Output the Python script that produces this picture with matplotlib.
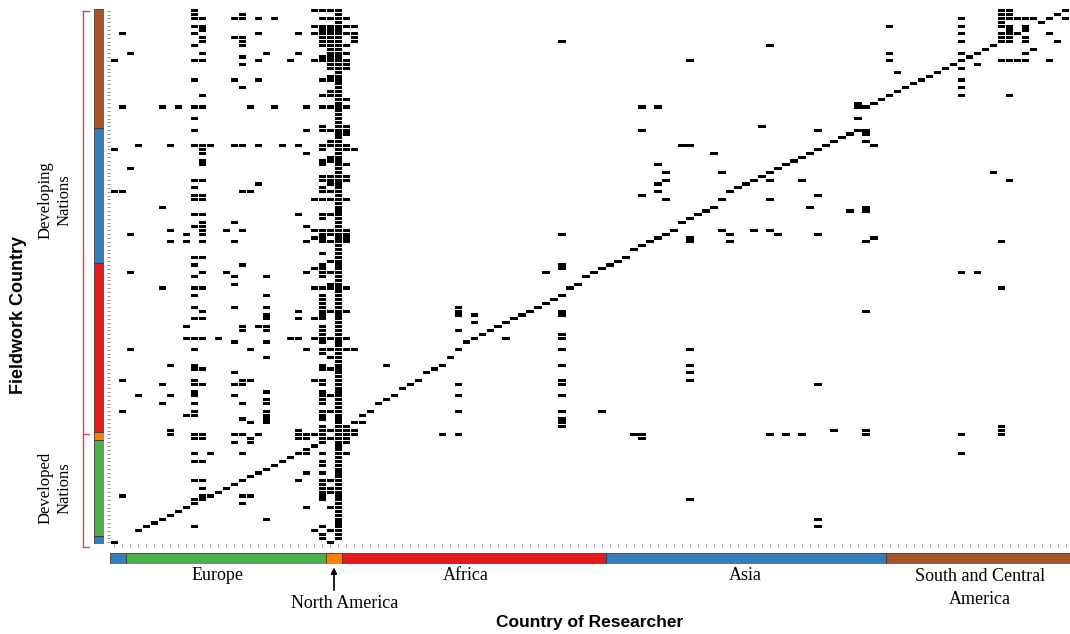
import numpy as np
import matplotlib
matplotlib.use("Agg")
import matplotlib.pyplot as plt
from matplotlib.lines import Line2D

# ---------------------------------------------------------------------------
# Regions: columns = country of researcher, rows = fieldwork country (top->bottom)
# ---------------------------------------------------------------------------
col_groups = ["Oceania", "Europe", "North America", "Africa", "Asia", "South and Central America"]
col_counts = [2, 25, 2, 33, 35, 23]
row_groups = ["South and Central America", "Asia", "Africa", "North America", "Europe", "Oceania"]
row_counts = [31, 35, 44, 2, 25, 2]

region_colors = {
    "Oceania": "#377EB8", "Europe": "#4DAF4A", "North America": "#FF7F00",
    "Africa": "#E41A1C", "Asia": "#377EB8", "South and Central America": "#A65628",
}

# column of the USA: black in every fieldwork row except these
usa_col = 28
usa_blank_rows = [138]

# researchers working in their own country (diagonal)
self_cols = [0, 3, 4, 5, 6, 7, 8, 9, 10, 11, 12, 13, 14, 15, 16, 17, 18, 19, 20, 21,
             22, 23, 24, 25, 26, 27,
             29, 30, 31, 32, 33, 34, 35, 36, 37, 38, 39, 40,
             41, 42, 43, 44, 45, 46, 47, 48, 49, 50, 51, 52, 53, 54, 55, 56, 57, 58, 59, 60,
             61, 62, 63, 64, 65, 66, 67, 68, 69, 70, 71, 72, 73, 74, 75, 76, 77, 78, 79,
             80, 81, 82, 83, 84, 85, 86, 87, 88, 89, 90, 91, 92, 93,
             94, 95, 96, 97, 98, 99, 100, 101, 102, 103, 104, 105, 106, 107, 108, 109, 110,
             116, 117, 118, 119]
self_rows = [138, 135, 134, 133, 132, 131, 130, 129, 128, 127, 126, 125, 124, 123, 122, 121, 120, 119, 118, 117,
             116, 115, 114, 113, 112, 111,
             108, 107, 105, 104, 102, 101, 100, 98, 97, 96, 94, 93,
             92, 90, 88, 86, 85, 84, 83, 82, 81, 80, 79, 78, 77, 76, 75, 74, 72, 71, 69, 68,
             67, 66, 65, 64, 62, 61, 60, 59, 58, 57, 55, 54, 53, 52, 51, 49, 47, 46, 45,
             44, 43, 42, 41, 40, 39, 38, 37, 36, 35, 34, 33, 32, 31,
             25, 24, 23, 22, 21, 20, 19, 18, 17, 16, 15, 14, 13, 12, 11, 10, 9,
             3, 2, 1, 0]

# other researcher columns per fieldwork row
sca_hits = {
    0: [10, 25, 26, 27, 111, 112],
    1: [10, 16, 111, 112],
    2: [10, 11, 15, 16, 18, 20, 26, 27, 29, 106, 111, 112, 113, 114, 115, 119],
    3: [111],
    4: [10, 11, 25, 26, 27, 29, 30, 97, 106, 111, 112, 114],
    5: [11, 26, 27, 112, 114],
    6: [1, 10, 18, 23, 25, 26, 27, 29, 30, 106, 111, 112, 113, 117],
    7: [11, 15, 16, 26, 27, 30, 111, 112, 114],
    8: [11, 16, 26, 27, 30, 56, 106, 111, 112, 114, 118],
    9: [10, 16, 26, 27, 29, 82],
    10: [27, 115],
    11: [2, 11, 19, 23, 27, 29, 97, 106, 114],
    12: [16, 26, 27],
    13: [0, 10, 11, 18, 22, 25, 26, 27, 29, 72, 97, 111, 112, 113, 114, 117],
    14: [16, 27, 29, 108],
    15: [27, 29, 106],
    16: [98],
    17: [27],
    18: [10, 15, 18, 26, 27, 106],
    20: [16, 106],
    21: [27],
    22: [11, 26, 27, 106, 112],
    23: [29],
    24: [93],
    25: [1, 6, 8, 10, 11, 17, 20, 24, 26, 27, 29, 66, 68, 93],
    28: [10, 93],
    30: [26, 29, 81],
}
asia_hits = {
    31: [10, 24, 26, 27, 29, 66, 88, 94],
    32: [29, 94],
    34: [27, 94],
    35: [3, 7, 10, 11, 12, 15, 16, 18, 21, 23, 26, 27, 29, 71, 72, 95],
    36: [0, 11, 26, 29, 30],
    37: [11, 24, 75],
    38: [27],
    39: [11, 26, 27],
    40: [11, 26, 29, 68],
    41: [2],
    42: [69, 76, 110],
    43: [26, 27, 29],
    44: [10, 11, 26, 27, 29, 69, 82, 86, 112],
    45: [18, 27, 68],
    46: [10, 26],
    47: [0, 1, 16, 17, 26, 27, 68],
    48: [10, 11, 66, 88],
    49: [10, 11, 25, 26, 27, 29, 69, 82],
    51: [6, 87, 94],
    52: [92, 94],
    53: [10, 11, 23, 26, 27],
    54: [26],
    55: [11, 15],
    56: [10, 11, 24],
    57: [7, 11, 14, 16, 25, 26, 27, 29, 76, 80, 82],
    58: [2, 9, 11, 26, 27, 29, 56, 77, 83, 88],
    59: [25, 26, 29, 72, 95],
    60: [7, 9, 11, 15, 24, 26, 27, 29, 72, 77, 94, 111],
    63: [26],
    64: [10, 11],
    65: [27],
}
africa_hits = {
    66: [10, 16, 26, 56],
    67: [25, 26, 56],
    68: [2, 11, 14, 24, 26, 27, 54, 106, 108],
    69: [10, 15, 19, 26],
    71: [15, 27],
    72: [6, 10, 11, 25, 26, 27, 29, 111],
    74: [10, 19, 26],
    75: [26],
    76: [26],
    77: [10, 15, 19, 26, 43],
    78: [11, 23, 26, 27, 29, 43, 56, 94],
    79: [19, 26, 43, 45, 56],
    80: [10, 11, 19, 23, 25, 26],
    81: [45],
    82: [9, 16, 18, 19, 26],
    83: [16, 19, 26, 43],
    84: [26, 56],
    85: [9, 10, 11, 13, 22, 23, 25, 26, 27, 29, 49, 56],
    86: [15, 19, 26],
    88: [2, 10, 17, 24, 26, 27, 29, 30, 43, 56, 72],
    89: [26],
    90: [19, 27],
    92: [7, 10, 26, 34, 56, 72],
    93: [10, 11, 26, 27],
    94: [15, 72],
    96: [1, 10, 16, 17, 25, 26, 56, 72],
    97: [6, 10, 11, 15, 16, 26, 43, 56, 88],
    99: [10, 19, 26],
    100: [3, 7, 10, 15, 26, 27, 43, 56],
    101: [19, 26],
    102: [6, 10, 16, 19, 26],
    104: [1, 10, 19, 26, 27, 43, 56, 61],
    105: [9, 10, 19, 26],
    106: [16, 19, 26, 56],
    107: [17, 19, 31, 56],
    108: [26, 56, 111],
    109: [7, 23, 26, 27, 29, 30, 90, 94, 111],
}
na_hits = {
    110: [7, 10, 11, 15, 16, 18, 23, 24, 25, 26, 29, 30, 41, 43, 65, 66, 82, 84, 86, 94, 106, 111],
    111: [10, 11, 17, 23, 24, 26, 29, 66],
}
europe_hits = {
    112: [15, 17, 26, 29],
    114: [24],
    115: [10, 12, 16, 23, 24, 26, 29, 106],
    117: [10, 11, 26],
    118: [26],
    120: [24, 26],
    122: [10, 11, 16, 23, 26, 27],
    123: [26],
    124: [11, 26, 27],
    125: [26, 27],
    126: [1, 11, 12, 16, 17, 26],
    127: [10, 11, 26, 72],
    128: [10, 16],
    129: [24, 27],
    132: [19, 88],
    134: [10, 26, 88],
    135: [25, 27],
    136: [26],
}
oceania_hits = {
    137: [26],
    138: [27],
}

# ---------------------------------------------------------------------------
# Build matrix
# ---------------------------------------------------------------------------
n_cols = sum(col_counts)
n_rows = sum(row_counts)
M = np.zeros((n_rows, n_cols))
for block in (sca_hits, asia_hits, africa_hits, na_hits, europe_hits, oceania_hits):
    for r, cols in block.items():
        M[r, cols] = 1
M[self_rows, self_cols] = 1
usa_rows = [r for r in range(n_rows) if r not in usa_blank_rows]
M[usa_rows, usa_col] = 1
hit_rows, hit_cols = np.nonzero(M)

# ---------------------------------------------------------------------------
# Figure
# ---------------------------------------------------------------------------
W, H = 1070, 634
fig = plt.figure(figsize=(W / 100, H / 100), dpi=100)
fig.patch.set_facecolor("white")


def fx(px):
    return px / W


def fy(py):
    return 1 - py / H


left, right, top, bottom = 110.3, 1069.8, 8.8, 544.2
ax = fig.add_axes([fx(left), fy(bottom), (right - left) / W, (bottom - top) / H])
ax.bar(hit_cols, 0.82, bottom=hit_rows - 0.41, width=0.9, color="black", linewidth=0)
ax.set_xlim(-0.5, n_cols - 0.5)
ax.set_ylim(n_rows - 0.5, -0.5)
ax.set_xticks(range(n_cols))
ax.set_yticks(range(n_rows))
ax.tick_params(length=2, width=0.6, color="#808080", labelbottom=False, labelleft=False)
for s in ax.spines.values():
    s.set_visible(False)

# researcher region bar
axx = fig.add_axes([fx(left), fy(563.5), (right - left) / W, 10.8 / H])
starts = np.concatenate([[0], np.cumsum(col_counts)[:-1]]) - 0.5
axx.barh(0, col_counts, left=starts, height=1,
         color=[region_colors[g] for g in col_groups], edgecolor="#3a3a3a", linewidth=0.6)
axx.set_xlim(-0.5, n_cols - 0.5)
axx.set_ylim(-0.5, 0.5)
axx.axis("off")

# fieldwork region bar
axy = fig.add_axes([fx(94), fy(bottom), 10 / W, (bottom - top) / H])
rstarts = np.concatenate([[0], np.cumsum(row_counts)[:-1]]) - 0.5
axy.bar(0, row_counts, bottom=rstarts, width=1,
        color=[region_colors[g] for g in row_groups], edgecolor="#3a3a3a", linewidth=0.6)
axy.set_ylim(n_rows - 0.5, -0.5)
axy.set_xlim(-0.5, 0.5)
axy.axis("off")

# developing / developed bracket
red = "#f03c3c"
for x0, y0, x1, y1 in [(83, 10.5, 83, 546.5), (83, 10.5, 89, 10.5),
                       (83, 433.5, 89, 433.5), (83, 546.5, 89, 546.5)]:
    fig.add_artist(Line2D([fx(x0), fx(x1)], [fy(y0), fy(y1)], color=red, lw=1.0))

serif = "Liberation Serif"
sans = "Liberation Sans"
fig.text(fx(55), fy(200), "Developing\nNations", rotation=90, ha="center", va="center",
         family=serif, fontsize=12, linespacing=1.25)
fig.text(fx(55), fy(488), "Developed\nNations", rotation=90, ha="center", va="center",
         family=serif, fontsize=12, linespacing=1.25)
fig.text(fx(19), fy(315), "Fieldwork Country", rotation=90, ha="center", va="center",
         family=sans, fontsize=13, fontweight="bold")

fig.text(fx(218), fy(576), "Europe", ha="center", va="center", family=serif, fontsize=13)
fig.text(fx(466), fy(576), "Africa", ha="center", va="center", family=serif, fontsize=13)
fig.text(fx(745), fy(576), "Asia", ha="center", va="center", family=serif, fontsize=13)
fig.text(fx(980), fy(588), "South and Central\nAmerica", ha="center", va="center",
         family=serif, fontsize=13, linespacing=1.4)
fig.text(fx(345), fy(603), "North America", ha="center", va="center", family=serif, fontsize=13)
fig.add_artist(plt.annotate("", xy=(fx(334), fy(565)), xytext=(fx(334), fy(593)),
                            xycoords="figure fraction", textcoords="figure fraction",
                            arrowprops=dict(arrowstyle="-|>", color="black", lw=0.9,
                                            mutation_scale=9)))
fig.text(fx(590), fy(622), "Country of Researcher", ha="center", va="center",
         family=sans, fontsize=12.5, fontweight="bold")

fig.savefig("out.png", dpi=100, facecolor="white")
